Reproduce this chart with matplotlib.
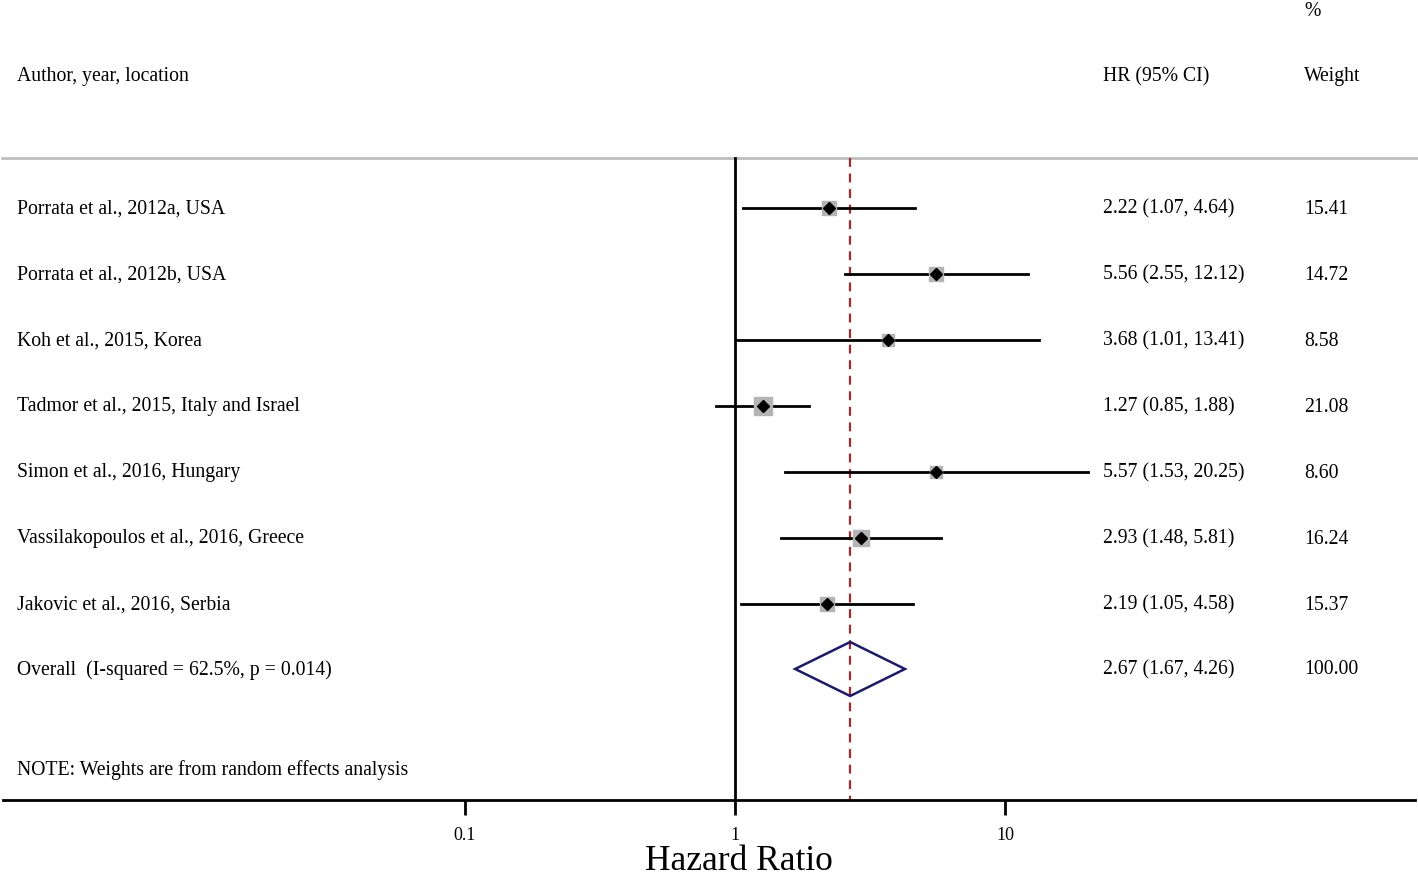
import matplotlib.pyplot as plt
import matplotlib.transforms as mtransforms
from matplotlib.patches import Polygon

plt.rcParams['font.family'] = ['Liberation Serif', 'DejaVu Serif']

# study data
studies = ["Porrata et al., 2012a, USA", "Porrata et al., 2012b, USA", "Koh et al., 2015, Korea",
           "Tadmor et al., 2015, Italy and Israel", "Simon et al., 2016, Hungary",
           "Vassilakopoulos et al., 2016, Greece", "Jakovic et al., 2016, Serbia"]
hr = [2.22, 5.56, 3.68, 1.27, 5.57, 2.93, 2.19]
lo = [1.07, 2.55, 1.01, 0.85, 1.53, 1.48, 1.05]
hi = [4.64, 12.12, 13.41, 1.88, 20.25, 5.81, 4.58]
weights = [15.41, 14.72, 8.58, 21.08, 8.60, 16.24, 15.37]
overall_label = "Overall  (I-squared = 62.5%, p = 0.014)"
overall = [2.67, 1.67, 4.26]
ticks = [0.1, 1, 10]
tick_labels = ["0.1", "1", "10"]

W, H = 1418, 876
fig = plt.figure(figsize=(W / 100, H / 100), dpi=100)
# axes: x from pixel 3 to 1415, y from top to pixel row 800
ax = fig.add_axes([3 / W, 76 / H, 1412 / W, 800 / H])
ax.set_xscale("log")
ax.set_xlim(10 ** ((3 - 735) / 270), 10 ** ((1415 - 735) / 270))
ax.set_ylim(800, 0)

for s in ["top", "left", "right"]:
    ax.spines[s].set_visible(False)
ax.spines["bottom"].set_linewidth(2)
ax.set_yticks([])
ax.set_xticks(ticks)
ax.set_xticklabels(tick_labels)
ax.xaxis.set_minor_locator(plt.NullLocator())
ax.tick_params(axis="x", direction="out", length=10.5, width=2, labelsize=13, pad=9)
ax.set_xlabel("Hazard Ratio", fontsize=25.5, labelpad=0)
ax.xaxis.set_label_coords((739 - 3) / 1412, -0.056)

trans = mtransforms.blended_transform_factory(fig.transFigure, ax.transData)

rows = [208 + 66 * i for i in range(len(studies))]
ov_row = 669

# header
fs = 14.2
ax.text(17 / W, 77, "Author, year, location", transform=trans, fontsize=fs, va="center")
ax.text(1103 / W, 77, "HR (95% CI)", transform=trans, fontsize=fs, va="center")
ax.text(1304 / W, 77, "Weight", transform=trans, fontsize=fs, va="center")
ax.text(1304 / W, 11, "%", transform=trans, fontsize=fs, va="center")
ax.plot([2 / W, 1], [158, 158], transform=trans, color="#bdbdbd", lw=2, clip_on=False)

# reference lines
ax.plot([1, 1], [158, 800], color="black", lw=2)
ax.plot([overall[0]] * 2, [158, 800], color="#a52a2a", lw=1.6, ls=(0, (4, 3)))

for i in range(len(studies)):
    y = rows[i]
    ax.plot([lo[i], hi[i]], [y, y], color="black", lw=2)
    side = 3.8 * weights[i] ** 0.5 * 0.72
    ax.scatter([hr[i]], [y], marker="s", s=side ** 2, color="#b4b4b4", zorder=3)
    ax.plot([hr[i]], [y], marker="D", ms=6.5, color="black", zorder=4)
    ax.text(17 / W, y + 1, studies[i], transform=trans, fontsize=fs, va="center")
    ax.text(1103 / W, y + 1, f"{hr[i]:.2f} ({lo[i]:.2f}, {hi[i]:.2f})", transform=trans, fontsize=fs, va="center")
    ax.text(1304 / W, y + 1, f"{weights[i]:.2f}", transform=trans, fontsize=fs, va="center")

# overall diamond
diamond = Polygon([(overall[1], ov_row), (overall[0], ov_row - 27), (overall[2], ov_row), (overall[0], ov_row + 27)],
                  closed=True, fill=False, edgecolor="#1a1a70", lw=1.8, zorder=3)
ax.add_patch(diamond)
ax.text(17 / W, ov_row + 1, overall_label, transform=trans, fontsize=fs, va="center")
ax.text(1103 / W, ov_row + 1, f"{overall[0]:.2f} ({overall[1]:.2f}, {overall[2]:.2f})", transform=trans, fontsize=fs, va="center")
ax.text(1304 / W, ov_row + 1, "100.00", transform=trans, fontsize=fs, va="center")

ax.text(17 / W, 770, "NOTE: Weights are from random effects analysis", transform=trans, fontsize=fs, va="center")

fig.savefig("out.png", dpi=100)
